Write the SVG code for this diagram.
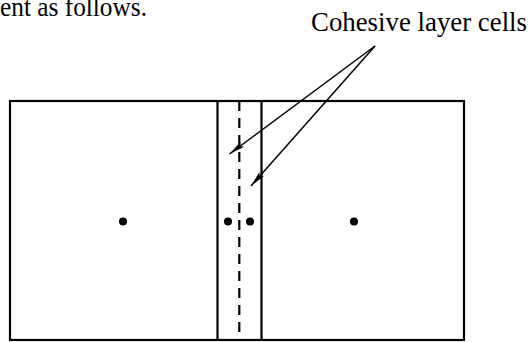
<svg xmlns="http://www.w3.org/2000/svg" width="532" height="342" viewBox="0 0 532 342">
<style>
.cell{fill:none;stroke:#000;stroke-width:2.2}
.div{stroke:#000;stroke-width:2.2}
.dash{stroke:#000;stroke-width:2.2;stroke-dasharray:10 7}
.dot{fill:#000}
.arr{stroke:#000;stroke-width:1.5;fill:none;marker-end:url(#ah)}
.txt{font-family:"Liberation Serif","Times New Roman",serif;fill:#000}
</style>
<defs>
<marker id="ah" markerUnits="userSpaceOnUse" markerWidth="18" markerHeight="10" refX="16" refY="4" orient="auto" viewBox="0 0 18 8">
<path d="M0,1 L16,4 L0,7 L3,4 Z" fill="#000"/>
</marker>
</defs>
<text class="txt" x="0" y="16" font-size="27" textLength="147" lengthAdjust="spacingAndGlyphs">ent as follows.</text>
<g id="outer-frame">
<rect class="cell" x="10" y="101" width="454" height="239"/>
</g>
<g id="left-cell">
<line class="div" x1="217.5" y1="101" x2="217.5" y2="340"/>
<circle class="dot" cx="123" cy="221.5" r="4"/>
</g>
<g id="right-cell">
<line class="div" x1="261.5" y1="101" x2="261.5" y2="340"/>
<circle class="dot" cx="354" cy="221.5" r="4"/>
</g>
<g id="cohesive-left">
<circle class="dot" cx="228" cy="221.5" r="4"/>
</g>
<g id="cohesive-right">
<circle class="dot" cx="250" cy="221.5" r="4"/>
</g>
<g id="interface">
<line class="dash" x1="239.3" y1="101" x2="239.3" y2="340"/>
</g>
<g id="label">
<text class="txt" x="311" y="31" font-size="28" textLength="216" lengthAdjust="spacingAndGlyphs">Cohesive layer cells</text>
</g>
<g id="connectors">
<line class="arr" x1="375" y1="46" x2="229.5" y2="154"/>
<line class="arr" x1="375" y1="46" x2="251" y2="186"/>
</g>
</svg>
